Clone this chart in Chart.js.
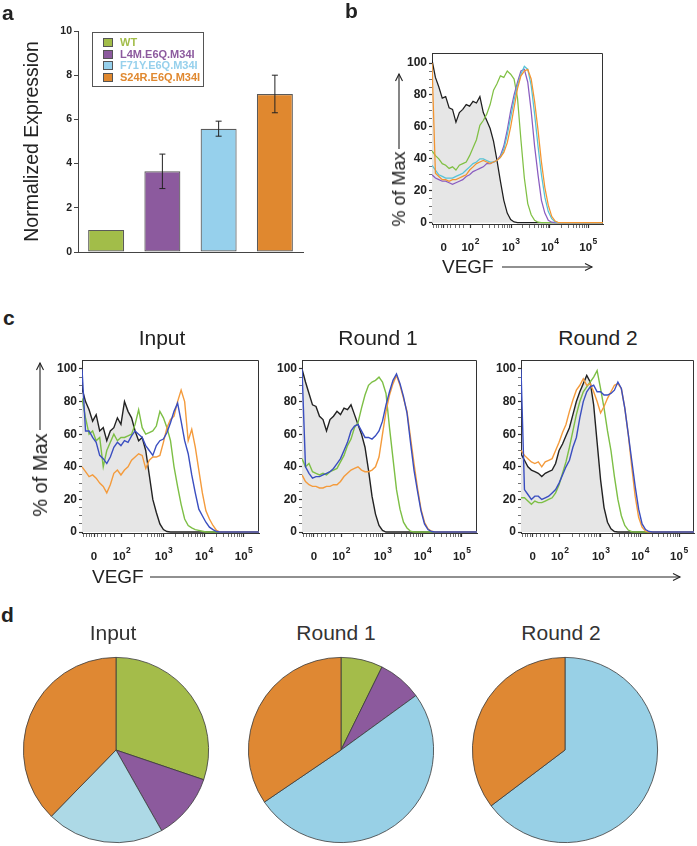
<!DOCTYPE html>
<html>
<head>
<meta charset="utf-8">
<script src="https://cdn.jsdelivr.net/npm/chart.js@4.4.0/dist/chart.umd.min.js"></script>
<style>
body { margin:0; background:#fff; }
#page { position:relative; width:697px; height:846px; overflow:hidden; font-family:"Liberation Sans", Arial, sans-serif; color:#222; }
.letter { position:absolute; font-weight:bold; font-size:21px; line-height:20px; }
.ttl { position:absolute; font-size:21px; line-height:21px; transform:translateX(-50%); white-space:nowrap; }
.rot { position:absolute; transform:translate(-50%,-50%) rotate(-90deg); white-space:nowrap; }
.lab { position:absolute; white-space:nowrap; }
#legendA { position:absolute; left:92px; top:32px; width:112px; height:55px; box-sizing:border-box; border:1px solid #555; background:#fff; }
.lgItem { position:absolute; left:0; font-weight:bold; font-size:11px; line-height:11px; white-space:nowrap; }
.lgBox { position:absolute; left:10px; top:1px; width:10px; height:9px; box-sizing:border-box; border:1px solid #555; }
.lgText { position:absolute; left:27px; top:0; }
</style>
</head>
<body>
<div id="page">
  <div class="letter" style="left:2px;top:3px">a</div>
  <div class="letter" style="left:345px;top:1px">b</div>
  <div class="letter" style="left:3px;top:308px">c</div>
  <div class="letter" style="left:1px;top:605px">d</div>

  <div class="rot" style="left:399px;top:189px;font-size:18px;line-height:18px">% of Max</div>
  <div class="lab" style="left:442px;top:257px;font-size:19px;line-height:19px">VEGF</div>
  <div class="rot" style="left:40px;top:475px;font-size:20px;line-height:20px">% of Max</div>
  <div class="lab" style="left:92px;top:567px;font-size:19px;line-height:19px">VEGF</div>

  <div class="ttl" style="left:162px;top:327px">Input</div>
  <div class="ttl" style="left:378px;top:327px">Round 1</div>
  <div class="ttl" style="left:598px;top:327px">Round 2</div>

  <div class="ttl" style="left:113px;top:622px;color:#333">Input</div>
  <div class="ttl" style="left:336px;top:622px;color:#333">Round 1</div>
  <div class="ttl" style="left:561px;top:622px;color:#333">Round 2</div>

  <svg width="697" height="846" style="position:absolute;left:0;top:0" fill="none" stroke="#222" stroke-width="1.1">
    <line x1="399" y1="149" x2="399" y2="74"/><polyline points="395.5,81 399,74 402.5,81"/>
    <line x1="502" y1="267" x2="592" y2="267"/><polyline points="585,263.5 592,267 585,270.5"/>
    <line x1="40" y1="430" x2="40" y2="363"/><polyline points="36.5,370 40,363 43.5,370"/>
    <line x1="150" y1="577" x2="680" y2="577"/><polyline points="673,573.5 680,577 673,580.5"/>
  </svg>
</div>

<script>
// ---- panel a : bar chart ----
var barLabels = ['WT', 'L4M.E6Q.M34I', 'F71Y.E6Q.M34I', 'S24R.E6Q.M34I'];
var barValues = [1.0, 3.65, 5.58, 7.15];
var barErrors = [0, 0.78, 0.34, 0.85];
var barColors = ['#a2bd49', '#8c5a9e', '#96d0ec', '#e0882f'];
var expTicks = [0, 2, 4, 6, 8, 10];

// ---- histograms (b, c) : x in display units of the biexponential VEGF axis ----
var vegfX = [0,2,4,6,8,10,12,14,16,18, 20,22,24,26,28,30,32,34,36,38, 40,42,44,46,48,50,52,54,56,58, 60,62,64,66,68,70,72,74,76,78, 100];
var vegfTickPos = [6.8, 22.5, 46.2, 69, 91.4];
var vegfTickBase = ['0', '10', '10', '10', '10'];
var vegfTickExp = ['', '2', '3', '4', '5'];
var vegfNearZero = [1, 2.5, 4, 5.5, 9, 11, 13.5, 16, 18.5];
var maxTicks = [0, 20, 40, 60, 80, 100];

var bBlack  = [102,91,85,78,79,72,71,63,69,71, 74,73,76,75,79,69,64,59,51,39, 26,14,6,2,0.5,0,0,0,0,0, 0,0,0,0,0,0,0,0,0,0, 0];
var bGreen  = [45,42,40,37,36,34,35,33,36,37, 38,42,47,52,61,64,68,74,83,87, 92,91,95,93,90,78,52,28,12,5, 1.5,0.3,0,0,0,0,0,0,0,0, 0];
var bPurple = [30,28,27,26,26,25,24,25,26,27, 29,30,32,33,34,35,37,37,38,39, 42,48,58,70,80,88,95,96,88,70, 48,30,14,6,1.5,0.3,0,0,0,0, 0];
var bCyan   = [36,33,30,29,28,28,28,29,30,31, 33,35,37,38,40,40,39,38,38,39, 41,46,55,66,77,86,93,98,96,86, 68,48,30,16,7,2.5,0.5,0,0,0, 0];
var bOrange = [100,31,29,27,27,26,27,27,28,29, 30,33,35,37,38,39,38,37,38,39, 41,44,50,60,72,84,92,95,96,90, 76,58,38,22,11,4,1,0,0,0, 0];

var inBlack  = [88,80,75,68,72,62,64,56,62,64, 70,66,80,74,70,62,56,58,50,35, 20,12,5,1.5,0.3,0,0,0,0,0, 0,0,0,0,0,0,0,0,0,0, 0];
var inGreen  = [82,70,60,62,56,58,40,50,55,60, 56,58,58,59,60,66,75,64,60,61, 62,65,74,70,64,56,40,28,17,8, 4,2.5,1.5,1,0.5,0,0,0,0,0, 0];
var inBlue   = [100,62,62,58,55,47,45,42,46,52, 55,53,56,55,59,62,60,58,53,50, 47,53,56,57,61,67,74,79,68,56, 48,35,24,14,10,6,3,1.5,0.3,0, 0];
var inOrange = [40,37,34,35,33,30,28,24,29,36, 38,35,38,40,44,46,48,47,39,44, 46,46,47,55,64,69,71,80,87,80, 56,63,52,38,24,13,8,4,1,0, 0];

var r1Black  = [100,92,85,78,77,71,69,62,69,71, 74,72,76,75,78,72,66,60,52,38, 22,11,4,1,0,0,0,0,0,0, 0,0,0,0,0,0,0,0,0,0, 0];
var r1Green  = [45,40,42,37,36,35,36,35,37,38, 39,43,47,53,57,64,67,76,84,90, 92,93,95,92,85,64,45,26,14,6, 2.5,0.5,0,0,0,0,0,0,0,0, 0];
var r1Blue   = [100,40,36,33,34,34,35,36,37,39, 42,45,50,55,62,65,66,62,58,58, 57,59,62,68,78,86,93,97,91,83, 73,55,38,25,13,5,1.5,0.3,0,0, 0];
var r1Orange = [35,31,29,28,28,27,27,28,28,29, 29,31,34,36,38,39,40,38,37,37, 38,40,46,60,74,84,91,96,90,82, 74,58,42,27,14,6,2,0.5,0,0, 0];

var r2Black  = [48,44,40,38,37,36,34,36,37,38, 42,50,54,59,64,72,80,86,91,96, 92,78,55,32,15,6,2,0.3,0,0, 0,0,0,0,0,0,0,0,0,0, 0];
var r2Green  = [21,21,19,17,19,18,18,19,20,21, 24,29,36,43,52,62,72,80,86,89, 92,95,99,88,76,62,50,34,20,10, 4,1.2,0.2,0,0,0,0,0,0,0, 0];
var r2Blue   = [100,26,23,20,22,22,20,21,22,24, 26,30,35,40,44,52,58,70,80,86, 89,90,86,86,84,84,85,87,92,88, 76,60,44,28,14,5,1.5,0.3,0,0, 0];
var r2Orange = [50,47,45,43,42,43,40,43,44,45, 50,55,61,66,74,81,87,90,94,90, 91,86,80,73,77,82,86,90,91,88, 76,60,40,22,9,3,0.5,0,0,0, 0];

// ---- panel d : pies (percent of clones: WT, L4M, F71Y, S24R) ----
var pieInput  = [30.2, 11.6, 20.5, 37.7];
var pieRound1 = [7.3, 7.7, 50.5, 34.5];
var pieRound2 = [0, 0, 64.7, 35.3];

var FONT = '"Liberation Sans", Arial, sans-serif';
var page = document.getElementById('page');

function makeCanvas(left, top, w, h) {
	var c = document.createElement('canvas');
	c.width = w; c.height = h;
	c.style.cssText = 'position:absolute;left:' + left + 'px;top:' + top + 'px;width:' + w + 'px;height:' + h + 'px';
	page.insertBefore(c, page.firstChild);
	return c;
}

// error bars on top of the bars
var errorBars = {
	id: 'errorBars',
	afterDatasetsDraw: function(chart) {
		var ctx = chart.ctx, y = chart.scales.y;
		ctx.save();
		ctx.strokeStyle = '#222';
		ctx.lineWidth = 1;
		chart.getDatasetMeta(0).data.forEach(function(bar, i) {
			var e = barErrors[i];
			if (!e) return;
			var t = y.getPixelForValue(barValues[i] + e), b = y.getPixelForValue(barValues[i] - e);
			ctx.beginPath();
			ctx.moveTo(bar.x, t); ctx.lineTo(bar.x, b);
			ctx.moveTo(bar.x - 3, t); ctx.lineTo(bar.x + 3, t);
			ctx.moveTo(bar.x - 3, b); ctx.lineTo(bar.x + 3, b);
			ctx.stroke();
		});
		ctx.restore();
	}
};

new Chart(makeCanvas(0, 20, 310, 250), {
	type: 'bar',
	data: {
		labels: barLabels,
		datasets: [{
			data: barValues,
			backgroundColor: barColors,
			borderColor: '#5a5a5a',
			borderWidth: 1.2,
			borderSkipped: false,
			barPercentage: 0.64,
			categoryPercentage: 1
		}]
	},
	options: {
		responsive: false, animation: false, events: [],
		layout: { padding: { top: 11, right: 7, left: 0, bottom: 0 } },
		plugins: { legend: { display: false }, tooltip: { enabled: false } },
		scales: {
			x: {
				grid: { display: false },
				ticks: { display: false },
				border: { color: '#444', width: 1 },
				afterFit: function(s) { s.height = 18; }
			},
			y: {
				min: 0, max: 10,
				afterBuildTicks: function(s) { s.ticks = expTicks.map(function(v) { return { value: v }; }); },
				ticks: { font: { family: FONT, weight: 'bold', size: 10.5 }, color: '#222', padding: 2 },
				grid: { drawOnChartArea: false, tickLength: 4, color: '#444' },
				border: { color: '#444', width: 1 },
				title: { display: true, text: 'Normalized Expression', font: { family: FONT, size: 19.5 }, color: '#222', padding: { top: 21, bottom: 0 } },
				afterFit: function(s) { s.width = 78; }
			}
		}
	},
	plugins: [errorBars]
});

// html legend for panel a
var lg = document.createElement('div');
lg.id = 'legendA';
barLabels.forEach(function(name, i) {
	var it = document.createElement('div');
	it.className = 'lgItem';
	it.style.top = (4 + i * 11.5) + 'px';
	it.innerHTML = '<div class="lgBox" style="background:' + barColors[i] + '"></div><div class="lgText" style="color:' + barColors[i] + '">' + name + '</div>';
	lg.appendChild(it);
});
page.appendChild(lg);

// frame round the flow plots (top and right sides)
var frame = {
	id: 'frame',
	beforeDatasetsDraw: function(chart) {
		var a = chart.chartArea, ctx = chart.ctx;
		ctx.save();
		ctx.strokeStyle = '#333';
		ctx.lineWidth = 1;
		ctx.beginPath();
		ctx.moveTo(a.left, a.top + 0.5); ctx.lineTo(a.right - 0.5, a.top + 0.5); ctx.lineTo(a.right - 0.5, a.bottom);
		ctx.stroke();
		ctx.restore();
	}
};

// decade labels 10^n with a real raised exponent, placed by the x scale
var decadeLabels = {
	id: 'decadeLabels',
	afterDraw: function(chart) {
		var s = chart.scales.x, ctx = chart.ctx;
		var y = s.top + 24;
		ctx.save();
		ctx.fillStyle = '#222';
		ctx.textBaseline = 'middle';
		ctx.textAlign = 'left';
		vegfTickPos.forEach(function(p, i) {
			var x = s.getPixelForValue(p);
			ctx.font = 'bold 11.5px ' + FONT;
			var wb = ctx.measureText(vegfTickBase[i]).width;
			ctx.font = 'bold 8.5px ' + FONT;
			var we = vegfTickExp[i] ? ctx.measureText(vegfTickExp[i]).width + 0.5 : 0;
			var x0 = x - (wb + we) / 2;
			ctx.font = 'bold 11.5px ' + FONT;
			ctx.fillText(vegfTickBase[i], x0, y);
			if (we) {
				ctx.font = 'bold 8.5px ' + FONT;
				ctx.fillText(vegfTickExp[i], x0 + wb + 0.5, y - 6);
			}
		});
		ctx.restore();
	}
};

function vegfTicks() {
	var list = vegfTickPos.map(function(p) { return { value: p, major: true }; });
	for (var d = 1; d < 4; d++) {
		for (var k = 2; k < 10; k++) {
			list.push({ value: vegfTickPos[d] + Math.log10(k) * (vegfTickPos[d + 1] - vegfTickPos[d]) });
		}
	}
	vegfNearZero.forEach(function(p) { list.push({ value: p }); });
	return list.sort(function(a, b) { return a.value - b.value; });
}

function maxTickList() {
	var list = [];
	for (var v = 0; v <= 100; v += 5) list.push({ value: v, lbl: maxTicks.indexOf(v) >= 0 ? String(v) : '' });
	return list;
}

function histogram(box, ymin, ymax, lw, series) {
	var ML = 45, MT = 10, MR = 12, MB = 34;
	var cv = makeCanvas(box[0] - ML, box[1] - MT, box[2] + ML + MR, box[3] + MT + MB);
	new Chart(cv, {
		type: 'line',
		data: {
			datasets: series.map(function(s) {
				return {
					data: s.vals.map(function(v, i) { return { x: vegfX[i], y: v }; }),
					borderColor: s.color,
					borderWidth: lw,
					pointRadius: 0,
					tension: 0,
					fill: s.fill ? 'origin' : false,
					backgroundColor: s.fill || 'transparent'
				};
			})
		},
		options: {
			responsive: false, animation: false, events: [],
			layout: { padding: { top: MT, right: MR, left: 0, bottom: 0 } },
			plugins: { legend: { display: false }, tooltip: { enabled: false } },
			scales: {
				x: {
					type: 'linear', min: 0, max: 100,
					afterBuildTicks: function(s) { s.ticks = vegfTicks(); },
					ticks: {
						autoSkip: false, maxRotation: 0, padding: 13, color: '#222',
						font: { family: FONT, weight: 'bold', size: 11.5 },
						callback: function() { return ''; }
					},
					grid: { drawOnChartArea: false, tickLength: 4, color: '#333',
						tickWidth: function(c) { return c.tick && c.tick.major ? 1.2 : 0.7; } },
					border: { color: '#333', width: 1 },
					afterFit: function(s) { s.height = MB; }
				},
				y: {
					min: ymin, max: ymax,
					afterBuildTicks: function(s) { s.ticks = maxTickList(); },
					ticks: {
						autoSkip: false, padding: 2, color: '#222',
						font: { family: FONT, weight: 'bold', size: 12 },
						callback: function(v, i, t) { return t[i].lbl; }
					},
					grid: { drawOnChartArea: false, tickLength: 3, color: '#333',
						tickWidth: function(c) { return c.tick && c.tick.lbl ? 1.2 : 0.7; } },
					border: { color: '#333', width: 1 },
					afterFit: function(s) { s.width = ML; }
				}
			}
		},
		plugins: [frame, decadeLabels]
	});
}

var GRAYFILL = '#e6e6e6';

histogram([432, 53, 171, 171], -0.8, 106.3, 1.25, [
	{ vals: bOrange, color: '#f3942f' },
	{ vals: bCyan, color: '#56c3d6' },
	{ vals: bPurple, color: '#8a5cc0' },
	{ vals: bGreen, color: '#80c044' },
	{ vals: bBlack, color: '#1e1e1e', fill: GRAYFILL }
]);

var cGreen = '#7dbf45', cBlue = '#3a4ec0', cOrange = '#f49b3c', cBlack = '#222';

histogram([82, 360, 177, 173], -0.6, 105.5, 1.4, [
	{ vals: inBlue, color: cBlue },
	{ vals: inOrange, color: cOrange },
	{ vals: inGreen, color: cGreen },
	{ vals: inBlack, color: cBlack, fill: GRAYFILL }
]);
histogram([302, 360, 175, 173], -0.6, 105.5, 1.4, [
	{ vals: r1Blue, color: cBlue },
	{ vals: r1Orange, color: cOrange },
	{ vals: r1Green, color: cGreen },
	{ vals: r1Black, color: cBlack, fill: GRAYFILL }
]);
histogram([521, 360, 173, 173], -0.6, 105.5, 1.4, [
	{ vals: r2Blue, color: cBlue },
	{ vals: r2Orange, color: cOrange },
	{ vals: r2Green, color: cGreen },
	{ vals: r2Black, color: cBlack, fill: GRAYFILL }
]);

// ---- pies ----
function pie(cx, cy, values, blue) {
	new Chart(makeCanvas(cx - 95, cy - 95, 190, 190), {
		type: 'pie',
		data: {
			labels: barLabels,
			datasets: [{
				data: values,
				backgroundColor: ['#a4bc4a', '#8c5a9d', blue, '#df8833'],
				borderColor: '#3a3a3a',
				borderWidth: 0.8
			}]
		},
		options: {
			responsive: false, animation: false, events: [],
			layout: { padding: 2 },
			plugins: { legend: { display: false }, tooltip: { enabled: false } }
		}
	});
}
pie(116, 750, pieInput, '#add9e6');
pie(341, 750, pieRound1, '#98d0e6');
pie(565, 750, pieRound2, '#98d0e6');
</script>
</body>
</html>
